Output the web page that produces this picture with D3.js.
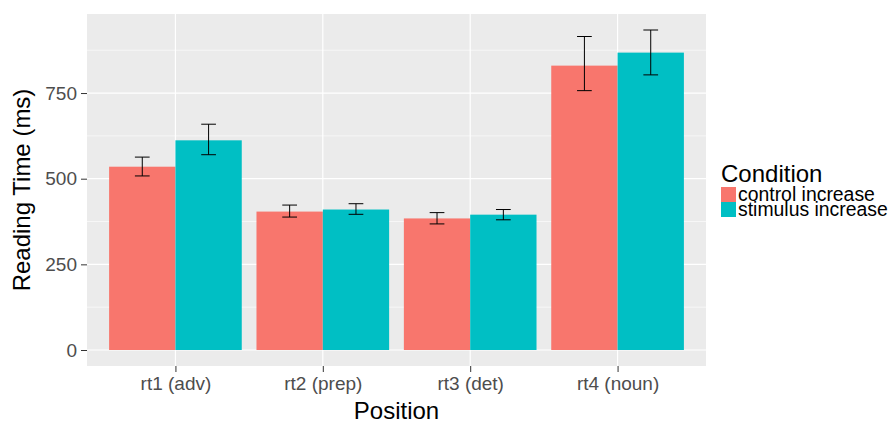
<!DOCTYPE html>
<html>
<head>
<meta charset="utf-8">
<script src="https://cdn.jsdelivr.net/npm/d3@7"></script>
<style>
  body { margin: 0; background: #fff; }
  text { font-family: "Liberation Sans", Arial, sans-serif; }
</style>
</head>
<body>
<svg id="chart" width="889" height="423"></svg>
<script>
// data
var categories = ["rt1 (adv)", "rt2 (prep)", "rt3 (det)", "rt4 (noun)"];
var conditions = ["control increase", "stimulus increase"];
var controlMean = [535, 404, 384, 830];
var controlLow = [508, 388, 368, 757];
var controlHigh = [563, 423, 401, 915];
var stimulusMean = [612, 410, 395, 868];
var stimulusLow = [570, 396, 380, 803];
var stimulusHigh = [659, 427, 410, 934];
var yTicks = [0, 250, 500, 750];
var yMinor = [125, 375, 625, 875];
var colors = ["#F8766D", "#00BFC4"];

var means = [controlMean, stimulusMean];
var lows = [controlLow, stimulusLow];
var highs = [controlHigh, stimulusHigh];

// panel box
var panel = {left: 87, right: 706, top: 14, bottom: 366};

var rows = [];
conditions.forEach(function(c, j) {
  categories.forEach(function(cat, i) {
    rows.push({cat: cat, idx: i, cond: j, mean: means[j][i], lo: lows[j][i], hi: highs[j][i]});
  });
});

var hi = d3.max(rows, function(d) { return d.hi; });
var pad = hi * 0.05;

var x = d3.scaleLinear()
  .domain([0.4, categories.length + 0.6])
  .range([panel.left, panel.right]);
var y = d3.scaleLinear()
  .domain([-pad, hi + pad])
  .range([panel.bottom, panel.top]);

var svg = d3.select("#chart");

// background + grid
svg.append("rect")
  .attr("x", panel.left).attr("y", panel.top)
  .attr("width", panel.right - panel.left)
  .attr("height", panel.bottom - panel.top)
  .attr("fill", "#EBEBEB");

svg.append("g").selectAll("line")
  .data(yMinor).enter().append("line")
  .attr("x1", panel.left).attr("x2", panel.right)
  .attr("y1", function(d) { return y(d); })
  .attr("y2", function(d) { return y(d); })
  .attr("stroke", "#fff").attr("stroke-width", 0.6);

svg.append("g").selectAll("line")
  .data(yTicks).enter().append("line")
  .attr("x1", panel.left).attr("x2", panel.right)
  .attr("y1", function(d) { return y(d); })
  .attr("y2", function(d) { return y(d); })
  .attr("stroke", "#fff").attr("stroke-width", 1.2);

svg.append("g").selectAll("line")
  .data(categories).enter().append("line")
  .attr("x1", function(d, i) { return x(i + 1); })
  .attr("x2", function(d, i) { return x(i + 1); })
  .attr("y1", panel.top).attr("y2", panel.bottom)
  .attr("stroke", "#fff").attr("stroke-width", 1.2);

// bars
var half = 0.45;
svg.append("g").selectAll("rect")
  .data(rows).enter().append("rect")
  .attr("x", function(d) { return x(d.idx + 1 - half + d.cond * half); })
  .attr("width", function(d) { return x(half) - x(0); })
  .attr("y", function(d) { return y(d.mean); })
  .attr("height", function(d) { return y(0) - y(d.mean); })
  .attr("fill", function(d) { return colors[d.cond]; });

// error bars
var capW = 0.05;
var eb = svg.append("g").selectAll("g")
  .data(rows).enter().append("g")
  .attr("stroke", "#000").attr("stroke-width", 1);
function cx(d) { return d.idx + 1 - half / 2 + d.cond * half; }
eb.append("line")
  .attr("x1", function(d) { return x(cx(d)); })
  .attr("x2", function(d) { return x(cx(d)); })
  .attr("y1", function(d) { return y(d.lo); })
  .attr("y2", function(d) { return y(d.hi); });
eb.append("line")
  .attr("x1", function(d) { return x(cx(d) - capW); })
  .attr("x2", function(d) { return x(cx(d) + capW); })
  .attr("y1", function(d) { return y(d.hi); })
  .attr("y2", function(d) { return y(d.hi); });
eb.append("line")
  .attr("x1", function(d) { return x(cx(d) - capW); })
  .attr("x2", function(d) { return x(cx(d) + capW); })
  .attr("y1", function(d) { return y(d.lo); })
  .attr("y2", function(d) { return y(d.lo); });

// axes
var yAxis = d3.axisLeft(y).tickValues(yTicks).tickSize(6).tickPadding(4);
var gy = svg.append("g")
  .attr("transform", "translate(" + panel.left + ",0)")
  .call(yAxis);
var xAxis = d3.axisBottom(x)
  .tickValues(categories.map(function(d, i) { return i + 1; }))
  .tickFormat(function(d) { return categories[d - 1]; })
  .tickSize(6).tickPadding(5);
var gx = svg.append("g")
  .attr("transform", "translate(0," + panel.bottom + ")")
  .call(xAxis);
[gx, gy].forEach(function(g) {
  g.select(".domain").remove();
  g.selectAll(".tick line").attr("stroke", "#333");
  g.selectAll(".tick text")
    .attr("fill", "#4D4D4D")
    .style("font-size", "19px");
});

// axis titles
svg.append("text")
  .attr("x", (panel.left + panel.right) / 2)
  .attr("y", 419)
  .attr("text-anchor", "middle")
  .style("font-size", "24px")
  .text("Position");
svg.append("text")
  .attr("transform", "translate(30," + (panel.top + panel.bottom) / 2 + ") rotate(-90)")
  .attr("text-anchor", "middle")
  .style("font-size", "24px")
  .text("Reading Time (ms)");

// legend
var lg = svg.append("g").attr("transform", "translate(721,0)");
lg.append("text")
  .attr("x", 0).attr("y", 182)
  .style("font-size", "24px")
  .text("Condition");
var items = lg.selectAll(".item")
  .data(conditions).enter().append("g")
  .attr("class", "item")
  .attr("transform", function(d, i) { return "translate(0," + (187 + i * 15) + ")"; });
items.append("rect")
  .attr("width", 15).attr("height", 15)
  .attr("fill", function(d, i) { return colors[i]; });
items.append("text")
  .attr("x", 17).attr("y", 14)
  .style("font-size", "19.4px")
  .text(function(d) { return d; });
</script>
</body>
</html>
